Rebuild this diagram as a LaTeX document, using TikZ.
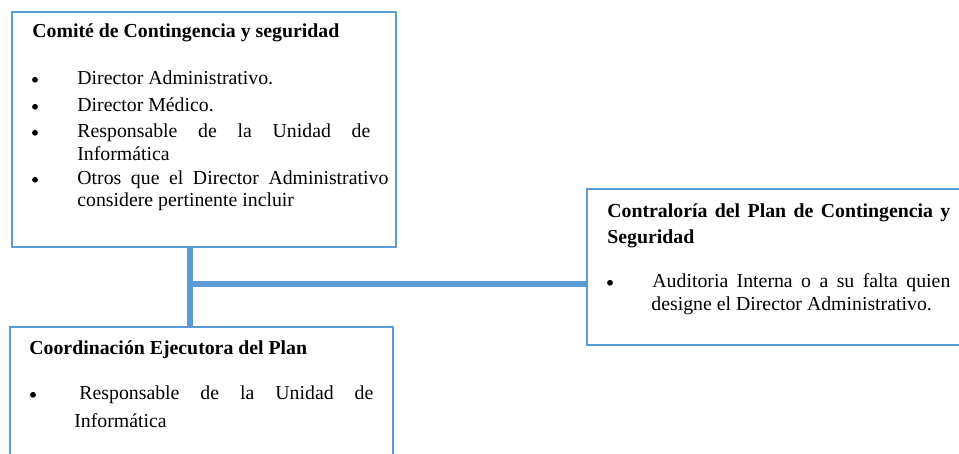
\documentclass[tikz,border=0pt]{standalone}
\usepackage{fontspec}
\setmainfont{Liberation Serif}
\definecolor{frameblue}{HTML}{5B9BD5}
\tikzset{
  panel/.style={draw=frameblue, line width=1.2pt, anchor=north west, inner sep=0pt, outer sep=0pt},
  link/.style={draw=frameblue, line width=3pt},
  head/.style={anchor=base west, inner sep=0pt, font=\fontsize{9.9}{11}\selectfont\bfseries},
  txt/.style={anchor=base west, inner sep=0pt, font=\fontsize{9.9}{11}\selectfont},
  dot/.style={circle, fill=black, inner sep=0pt, minimum size=2.9pt, yshift=2.6pt}
}
\begin{document}
\begin{tikzpicture}[x=0.5pt, y=-0.5pt]
\useasboundingbox (0,0) rectangle (959,454);
\clip (0,0) rectangle (959,454);

% panels
\node[panel, minimum width=192pt, minimum height=117.5pt] (comite) at (12,12) {};
\node[panel, minimum width=191.5pt, minimum height=80pt] (coord) at (10,327) {};
\node[panel, minimum width=191.5pt, minimum height=78pt] (contra) at (587,189) {};

% connectors
\coordinate (j) at (190,284);
\draw[link] (comite.south -| j) -- (coord.north -| j);
\draw[link] (j) -- (contra.west |- j);

% Comité de Contingencia y seguridad
\node[head] (t1) at (32,38) {Comité de Contingencia y seguridad};
\node[dot] (b1a) at (35,85) {};
\node[dot] (b1b) at (35,112) {};
\node[dot] (b1c) at (35,138) {};
\node[dot] (b1d) at (35,185) {};
\node[txt] (i1a) at (77,85) {Director Administrativo.};
\node[txt] (i1b) at (77,112) {Director Médico.};
\node[txt] (i1c) at (77,138) {\makebox[146.5pt][s]{Responsable de la Unidad de}};
\node[txt] (i1c2) at (77,161) {Informática};
\node[txt] (i1d) at (77,185) {\makebox[155.5pt][s]{Otros que el Director Administrativo}};
\node[txt] (i1d2) at (77,207) {considere pertinente incluir};

% Coordinación Ejecutora del Plan
\node[head] (t2) at (29,355) {Coordinación Ejecutora del Plan};
\node[dot] (b2a) at (33,400) {};
\node[txt] (i2a) at (79,400) {\makebox[147pt][s]{Responsable de la Unidad de}};
\node[txt] (i2a2) at (74,427) {Informática};

% Contraloría del Plan de Contingencia y Seguridad
\node[head] (t3) at (607,218) {\makebox[171.5pt][s]{Contraloría del Plan de Contingencia y}};
\node[head] (t3b) at (607,244) {Seguridad};
\node[dot] (b3a) at (610,288) {};
\node[txt] (i3a) at (652,288) {\makebox[149pt][s]{Auditoria Interna o a su falta quien}};
\node[txt] (i3a2) at (651,311) {designe el Director Administrativo.};
\end{tikzpicture}
\end{document}
